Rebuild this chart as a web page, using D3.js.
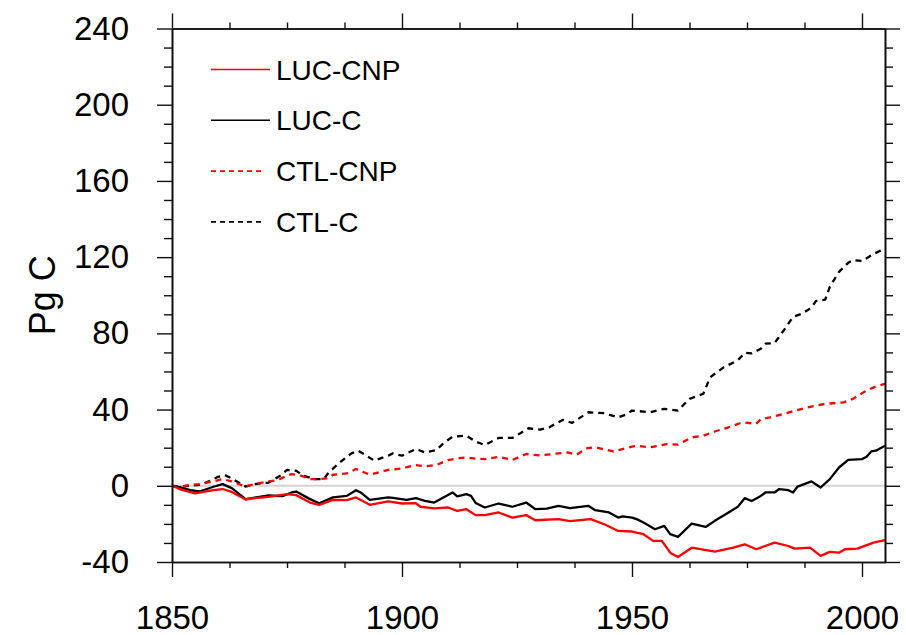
<!DOCTYPE html>
<html>
<head>
<meta charset="utf-8">
<script src="https://cdn.jsdelivr.net/npm/d3@7"></script>
<style>
  html, body { margin: 0; padding: 0; background: #fff; }
  svg { display: block; }
  text { font-family: "Liberation Sans", Arial, Helvetica, sans-serif; fill: #000; }
</style>
</head>
<body>
<svg id="chart" width="906" height="635"></svg>
<script>
// ---------------- data ----------------
const lucCnpYears = [1850,1852,1855,1859,1861,1863,1866,1868,1871,1875,1877,1880,1882,1885,1888,1890,1893,1897,1900,1903,1904,1907,1910,1912,1914,1916,1918,1921,1924,1927,1929,1934,1936.5,1941,1944,1947,1950,1951,1952.5,1954.6,1956.5,1958.3,1960,1963,1968,1972,1974.5,1977,1981,1984,1985.4,1988.7,1991,1993,1995,1996.3,1999,2002.5,2005];
const lucCnpValues = [0,-2,-4,-2.3,-1.7,-3.2,-7.2,-6.5,-5.8,-4.4,-4.9,-8.8,-10,-7.4,-7.5,-6.1,-10,-8.2,-9.3,-9.1,-11,-11.9,-11.4,-13.2,-12.3,-15.4,-15.4,-14,-16.7,-15.4,-18.1,-17.5,-18.6,-17.5,-20.2,-23.7,-24,-24.6,-25.4,-28.9,-28.9,-35.1,-37.4,-32.5,-34.6,-32.5,-30.7,-33.3,-29.8,-31.6,-33,-32.5,-36.8,-34.7,-35.1,-33.3,-33,-29.8,-28.5];

const lucCYears = [1850,1852,1854,1856,1859,1861,1863,1866,1869,1871,1874,1876,1877,1880,1882,1885,1888,1890,1891,1893,1897,1898,1901,1903,1905,1907,1909,1911,1912,1914,1915,1916,1918,1921,1924,1927,1929,1931.5,1934,1936.5,1940.5,1942,1945,1947,1948,1950,1951,1952.5,1955,1957,1958.3,1960,1963,1966,1968,1971,1973,1974.5,1976,1978,1979,1981,1982,1984,1985,1986,1989,1991,1993,1995,1997,2000,2001,2002,2003,2004.6,2005];
const lucCValues = [0,-0.9,-2.3,-3,-0.5,0.9,-1.2,-7,-5.8,-5.1,-5.4,-3.5,-3,-7,-9.2,-6.1,-5.3,-2.3,-3.5,-7.4,-6.1,-6.3,-7.4,-6.5,-7.9,-8.8,-6.1,-3.5,-5.6,-4.4,-5.3,-9,-11.4,-9.3,-11,-8.8,-12.3,-12,-10.5,-11.7,-10.5,-12.8,-14,-16.7,-16.1,-16.7,-17.5,-19.3,-22.8,-21,-25.4,-26.8,-19.8,-21.6,-18.4,-14,-11,-6.5,-8,-5.3,-3.5,-3.5,-1.7,-2.3,-3.5,-0.4,2.3,-0.9,3.5,9.6,13.6,14,15.2,18,18.4,20.5,21];

const ctlCnpYears = [1850,1852,1854,1856,1859,1861,1863,1866,1868,1871,1873,1875,1876,1878,1880,1882,1884,1885,1888,1890,1893,1897,1900,1903,1905,1907.5,1910,1912,1914,1916,1918,1921,1924,1927,1930,1934,1936,1938,1940,1942,1946,1950,1951,1954,1957.5,1960,1963,1965.5,1968,1971,1974,1976,1977,1978,1980,1983,1985,1989,1992,1996,1998,2001,2003,2005];
const ctlCnpValues = [0,-0.4,0.5,0.9,2.3,3.5,2.3,-0.4,0.9,2.3,3,5.3,6.1,5.3,3.5,3.5,4,5.8,6.5,8.8,5.8,8.3,9.1,10.9,10.2,10.9,13.5,14.4,14.9,14.2,14,15.2,13.6,16.7,15.9,17,17.5,16.3,19.6,20.2,18,20.5,21,20.2,21.9,21.6,25.4,26.3,28.5,30.7,33.3,32.8,32.5,35,35.9,37.7,39.1,41.6,43,43.8,45.6,50,52.1,53.5];

const ctlCYears = [1850,1852,1854,1856,1858,1860,1861.5,1863,1866,1868,1871,1873.5,1875,1877,1878.5,1881,1883,1884,1886.5,1889,1890.5,1894,1897,1898,1900,1903,1905,1907.5,1909,1911,1914,1916,1918,1921,1924,1926,1927.5,1930,1932,1935,1937,1940.5,1944,1947,1949,1950,1954,1957,1960,1962.5,1965.5,1967,1970,1973,1974.5,1976,1978,1979,1981,1983,1985,1987,1989,1990,1992,1993,1995,1997,1998,2000,2002.5,2004.6,2005];
const ctlCValues = [0,-0.4,0,0.5,2.3,4.7,5.6,3.8,-0.4,0.9,1.7,5.3,8.3,7.9,5.3,3.5,3.5,6.8,12.3,17,18.4,13.2,15.8,17,15.8,19.3,17.5,18.8,22.3,25.8,26.3,23.2,21.4,25.1,25.1,28,30.2,29.5,30.7,34.6,33,38.6,38.1,35.9,37.7,39.5,38.6,40.4,39.5,45.6,48.3,57,62.3,65.8,69.8,69.5,71.9,74.6,74.9,81.6,88.6,90.4,93.5,97,97.7,104.4,112.3,117,118.4,118,121.6,124.2,124.5];

const seriesNames = ["LUC-CNP", "LUC-C", "CTL-CNP", "CTL-C"];
const seriesColors = ["#ff0000", "#000000", "#ff0000", "#000000"];
const seriesDashed = [false, false, true, true];

const xMajorTicks = [1850, 1900, 1950, 2000];
const yMajorTicks = [-40, 0, 40, 80, 120, 160, 200, 240];
const yAxisTitle = "Pg C";

// ---------------- layout ----------------
const svg = d3.select("#chart");
const L = 172, R = 885, T = 28.5, B = 562;

const x = d3.scaleLinear().domain([1850, 2005]).range([L, R]);
const y = d3.scaleLinear().domain([-40, 240]).range([B, T]);

const xMinor = d3.range(1850, 2005.01, 12.5).filter(v => !xMajorTicks.includes(v));
const yMinor = d3.range(-40, 240.01, 10).filter(v => !yMajorTicks.includes(v));

// zero reference line
svg.append("line")
  .attr("x1", L).attr("x2", R)
  .attr("y1", y(0)).attr("y2", y(0))
  .attr("stroke", "#d3d3d3").attr("stroke-width", 2);

// data lines
const datasets = [
  {years: lucCnpYears, values: lucCnpValues},
  {years: lucCYears, values: lucCValues},
  {years: ctlCnpYears, values: ctlCnpValues},
  {years: ctlCYears, values: ctlCValues}
];
const line = d3.line().x(d => x(d[0])).y(d => y(d[1])).curve(d3.curveLinear);

[3, 2, 1, 0].forEach(i => {
  const pts = datasets[i].years.map((yr, k) => [yr, datasets[i].values[k]]);
  svg.append("path")
    .datum(pts)
    .attr("d", line)
    .attr("fill", "none")
    .attr("stroke", seriesColors[i])
    .attr("stroke-width", 2.3)
    .attr("stroke-linejoin", "round")
    .attr("stroke-dasharray", seriesDashed[i] ? "6,5" : null);
});

// axes
const fmt = d => String(d);
function styleAxis(g) {
  g.selectAll(".domain").attr("stroke", "#111").attr("stroke-width", 1.6);
  g.selectAll(".tick line").attr("stroke", "#111").attr("stroke-width", 1.4);
  g.selectAll("text").attr("font-size", 33).attr("font-family", "'Liberation Sans', Arial, Helvetica, sans-serif").attr("fill", "#000");
}

// bottom
svg.append("g").attr("transform", `translate(0,${B})`)
  .call(d3.axisBottom(x).tickValues(xMinor).tickSize(6).tickSizeOuter(0).tickFormat(""))
  .call(styleAxis);
svg.append("g").attr("transform", `translate(0,${B})`)
  .call(d3.axisBottom(x).tickValues(xMajorTicks).tickSize(15).tickSizeOuter(0).tickPadding(29).tickFormat(fmt))
  .call(styleAxis);
// top
svg.append("g").attr("transform", `translate(0,${T})`)
  .call(d3.axisTop(x).tickValues(xMinor).tickSize(6).tickSizeOuter(0).tickFormat(""))
  .call(styleAxis);
svg.append("g").attr("transform", `translate(0,${T})`)
  .call(d3.axisTop(x).tickValues(xMajorTicks).tickSize(15).tickSizeOuter(0).tickFormat(""))
  .call(styleAxis);
// left
svg.append("g").attr("transform", `translate(${L},0)`)
  .call(d3.axisLeft(y).tickValues(yMinor).tickSize(8).tickSizeOuter(0).tickFormat(""))
  .call(styleAxis);
svg.append("g").attr("transform", `translate(${L},0)`)
  .call(d3.axisLeft(y).tickValues(yMajorTicks).tickSize(15).tickSizeOuter(0).tickPadding(28).tickFormat(fmt))
  .call(styleAxis);
// right
svg.append("g").attr("transform", `translate(${R},0)`)
  .call(d3.axisRight(y).tickValues(yMinor).tickSize(8).tickSizeOuter(0).tickFormat(""))
  .call(styleAxis);
svg.append("g").attr("transform", `translate(${R},0)`)
  .call(d3.axisRight(y).tickValues(yMajorTicks).tickSize(15).tickSizeOuter(0).tickFormat(""))
  .call(styleAxis);

// y axis title
svg.append("text")
  .attr("transform", `translate(55,${(T + B) / 2}) rotate(-90)`)
  .attr("text-anchor", "middle")
  .attr("font-size", 36)
  .text(yAxisTitle);

// legend
const legendY0 = 69.5, legendDy = 50.8;
seriesNames.forEach((name, i) => {
  const ly = legendY0 + i * legendDy;
  svg.append("line")
    .attr("x1", 211).attr("x2", seriesDashed[i] ? 262 : 270)
    .attr("y1", ly).attr("y2", ly)
    .attr("stroke", seriesColors[i])
    .attr("stroke-width", 1.6)
    .attr("stroke-dasharray", seriesDashed[i] ? "5,4" : null);
  svg.append("text")
    .attr("x", 276).attr("y", ly + 10)
    .attr("font-size", 28)
    .text(name);
});
</script>
</body>
</html>
